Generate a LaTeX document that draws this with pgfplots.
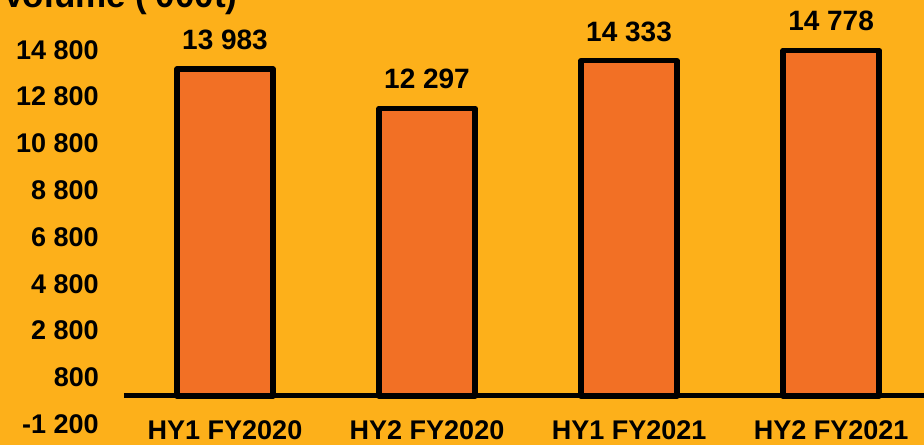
\documentclass[border=0pt]{standalone}
\usepackage{pgfplots}
\pgfplotsset{compat=1.18}
\usepackage{fontspec}
\setmainfont{Liberation Sans}
\definecolor{bgc}{RGB}{253,176,26}
\definecolor{barc}{RGB}{242,112,37}
\begin{document}
\begin{tikzpicture}[x=1pt,y=1pt]
\fill[bgc] (0,0) rectangle (924,445);
\begin{axis}[
  at={(124pt,0pt)}, anchor=south west,
  scale only axis, width=800pt, height=445pt,
  xmin=-0.5, xmax=3.46, ymin=-2095, ymax=16930,
  axis line style={draw=none},
  major tick length=0pt,
  xtick={0,1,2,3},
  xticklabels={HY1 FY2020,HY2 FY2020,HY1 FY2021,HY2 FY2021},
  ytick={-1200,800,2800,4800,6800,8800,10800,12800,14800},
  yticklabels={-1 200,800,2 800,4 800,6 800,8 800,10 800,12 800,14 800},
  ticklabel style={font=\fontsize{27}{32}\selectfont\bfseries, inner sep=0pt},
  yticklabel style={anchor=east, xshift=-25pt},
  xticklabel style={anchor=base, yshift=6pt},
  clip=false,
  nodes near coords,
  point meta=explicit symbolic,
  nodes near coords style={font=\fontsize{28}{33}\selectfont\bfseries, anchor=base, inner sep=0pt, yshift=19.5pt},
]
\addplot[ybar, bar width=96pt, fill=barc, draw=black, line width=5.5pt, line join=round]
  coordinates {(0,13983) [13 983] (1,12297) [12 297] (2,14333) [14 333] (3,14778) [14 778]};
\draw[line width=5pt, black] (axis cs:-0.5,0) -- (axis cs:3.46,0);
\end{axis}
\node[anchor=base west, inner sep=0pt, font=\fontsize{35}{40}\selectfont\bfseries] at (2,437) {Volume (\textquotesingle000t)};
\pgfresetboundingbox
\useasboundingbox (0,0) rectangle (924,445);
\end{tikzpicture}
\end{document}
